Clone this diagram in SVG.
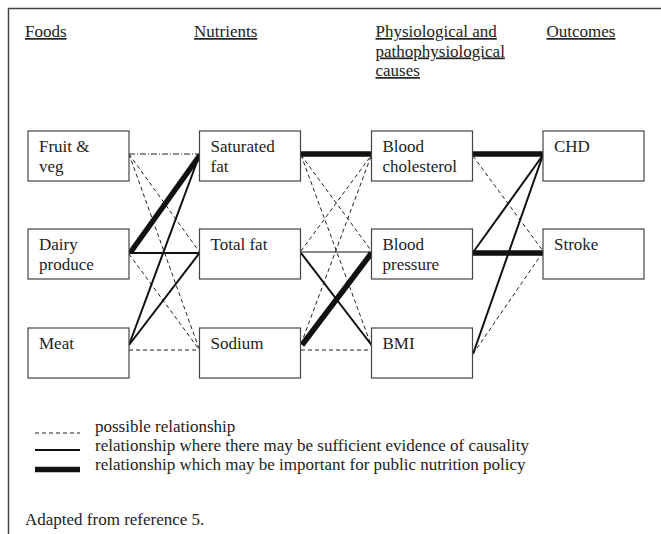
<svg xmlns="http://www.w3.org/2000/svg" width="661" height="534" viewBox="0 0 661 534">
<style>
text{font-family:"Liberation Serif","Times New Roman",serif;font-size:17px;fill:#222}
.h{text-decoration:underline}
.box{fill:#fff;stroke:#444;stroke-width:1.2}
.d{stroke:#222;stroke-width:1;stroke-dasharray:4,3;fill:none}
.dd{stroke:#222;stroke-width:1;stroke-dasharray:6,2,1,2;fill:none}
.s{stroke:#111;stroke-width:2;fill:none}
.t{stroke:#111;stroke-width:1.2;fill:none}
.k{stroke:#111;stroke-width:5.5;fill:none}
</style>
<rect width="661" height="534" fill="#fff"/>
<path d="M8.5,534 V8.5 H661" fill="none" stroke="#444" stroke-width="1.5"/>
<g id="headers">
<text class="h" x="25" y="37">Foods</text>
<text class="h" x="194" y="37">Nutrients</text>
<text class="h" x="375.5" y="37">Physiological and</text>
<text class="h" x="375.5" y="56.5">pathophysiological</text>
<text class="h" x="375.5" y="76">causes</text>
<text class="h" x="546.5" y="37">Outcomes</text>
</g>
<g id="connectors">
<line class="dd" x1="129" y1="154" x2="199.5" y2="154"/>
<line class="d" x1="129" y1="154" x2="199.5" y2="252"/>
<line class="d" x1="129" y1="154" x2="199.5" y2="350"/>
<line class="k" x1="130" y1="253" x2="200" y2="155"/>
<line class="s" x1="129" y1="253" x2="199.5" y2="253"/>
<line class="d" x1="129" y1="254" x2="199.5" y2="350"/>
<line class="s" x1="129" y1="345" x2="199.5" y2="155"/>
<line class="s" x1="129" y1="345" x2="199.5" y2="253"/>
<line class="d" x1="129" y1="350" x2="199.5" y2="350"/>
<line class="k" x1="301" y1="154" x2="371.5" y2="154"/>
<line class="d" x1="301" y1="155" x2="371.5" y2="251"/>
<line class="d" x1="301" y1="155" x2="371.5" y2="346"/>
<line class="d" x1="301" y1="251" x2="371.5" y2="155"/>
<line class="t" x1="301" y1="252" x2="371.5" y2="252"/>
<line class="s" x1="301" y1="253" x2="371.5" y2="345"/>
<line class="d" x1="301" y1="344" x2="371.5" y2="155"/>
<line class="k" x1="302" y1="345" x2="371.5" y2="253"/>
<line class="d" x1="301" y1="350" x2="371.5" y2="350"/>
<line class="k" x1="473" y1="154" x2="543" y2="154"/>
<line class="d" x1="473" y1="156" x2="543" y2="251"/>
<line class="s" x1="474" y1="251" x2="543" y2="155"/>
<line class="k" x1="473" y1="253" x2="543" y2="253"/>
<line class="s" x1="473" y1="354" x2="543" y2="155"/>
<line class="d" x1="473" y1="354" x2="543" y2="252"/>
</g>
<g id="fruit-veg"><rect class="box" x="28" y="131" width="101" height="50"/><text x="39" y="152">Fruit &amp;</text><text x="39" y="172">veg</text></g>
<g id="dairy"><rect class="box" x="28" y="229" width="101" height="50"/><text x="39" y="250">Dairy</text><text x="39" y="270">produce</text></g>
<g id="meat"><rect class="box" x="28" y="328" width="101" height="50"/><text x="39" y="349">Meat</text></g>
<g id="saturated-fat"><rect class="box" x="199.5" y="131" width="101" height="50"/><text x="210.5" y="152">Saturated</text><text x="210.5" y="172">fat</text></g>
<g id="total-fat"><rect class="box" x="199.5" y="229" width="101" height="50"/><text x="210.5" y="250">Total fat</text></g>
<g id="sodium"><rect class="box" x="199.5" y="328" width="101" height="50"/><text x="210.5" y="349">Sodium</text></g>
<g id="blood-cholesterol"><rect class="box" x="371.5" y="131" width="101" height="50"/><text x="382.5" y="152">Blood</text><text x="382.5" y="172">cholesterol</text></g>
<g id="blood-pressure"><rect class="box" x="371.5" y="229" width="101" height="50"/><text x="382.5" y="250">Blood</text><text x="382.5" y="270">pressure</text></g>
<g id="bmi"><rect class="box" x="371.5" y="328" width="101" height="50"/><text x="382.5" y="349">BMI</text></g>
<g id="chd"><rect class="box" x="543" y="131" width="101" height="50"/><text x="554" y="152">CHD</text></g>
<g id="stroke"><rect class="box" x="543" y="229" width="101" height="50"/><text x="554" y="250">Stroke</text></g>
<g id="legend">
<line class="d" x1="35" y1="433" x2="80" y2="433"/>
<text x="95" y="432">possible relationship</text>
<line class="s" x1="35" y1="450" x2="80" y2="450"/>
<text x="95" y="451">relationship where there may be sufficient evidence of causality</text>
<line class="k" x1="35" y1="469.5" x2="80" y2="469.5"/>
<text x="95" y="470">relationship which may be important for public nutrition policy</text>
</g>
<text x="25" y="525">Adapted from reference 5.</text>
</svg>
